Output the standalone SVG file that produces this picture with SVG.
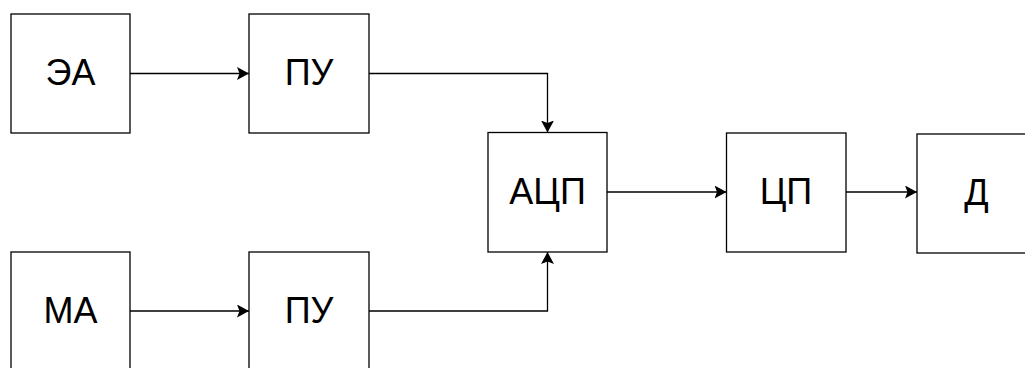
<svg xmlns="http://www.w3.org/2000/svg" width="1025" height="368" viewBox="0 0 1025 368">
<style>
.box{fill:#fff;stroke:#000;stroke-width:1.3}
.lbl{font-family:"Liberation Sans",Arial,sans-serif;font-size:36px;fill:#000;text-anchor:middle}
.con{fill:none;stroke:#000;stroke-width:1.3}
</style>
<defs>
<marker id="arr" markerUnits="userSpaceOnUse" markerWidth="14" markerHeight="14" refX="12" refY="6.5" orient="auto">
<path d="M0,0 L12,6.5 L0,13 L2.5,6.5 Z" fill="#000"/>
</marker>
</defs>
<rect width="1025" height="368" fill="#fff"/>
<g id="connectors">
<path class="con" d="M130,73.5 L249,73.5" marker-end="url(#arr)"/>
<path class="con" d="M369,73.5 L547.5,73.5 L547.5,132.5" marker-end="url(#arr)"/>
<path class="con" d="M130,311 L249,311" marker-end="url(#arr)"/>
<path class="con" d="M369,311 L547.5,311 L547.5,252" marker-end="url(#arr)"/>
<path class="con" d="M607,192 L726.5,192" marker-end="url(#arr)"/>
<path class="con" d="M846,192 L917,192" marker-end="url(#arr)"/>
</g>
<g id="ea"><rect class="box" x="11" y="14" width="119" height="119"/><text class="lbl" x="70.5" y="85">ЭА</text></g>
<g id="pu1"><rect class="box" x="249" y="14" width="120" height="119"/><text class="lbl" x="309" y="85">ПУ</text></g>
<g id="ma"><rect class="box" x="11" y="252" width="119" height="119"/><text class="lbl" x="70.5" y="323">МА</text></g>
<g id="pu2"><rect class="box" x="249" y="252" width="120" height="119"/><text class="lbl" x="309" y="323">ПУ</text></g>
<g id="adc"><rect class="box" x="488" y="132.5" width="119" height="119.5"/><text class="lbl" x="547.5" y="204">АЦП</text></g>
<g id="cpu"><rect class="box" x="726.5" y="133" width="119.5" height="119"/><text class="lbl" x="786" y="204">ЦП</text></g>
<g id="d"><rect class="box" x="917" y="134" width="119" height="119"/><text class="lbl" x="976.5" y="205">Д</text></g>
</svg>
